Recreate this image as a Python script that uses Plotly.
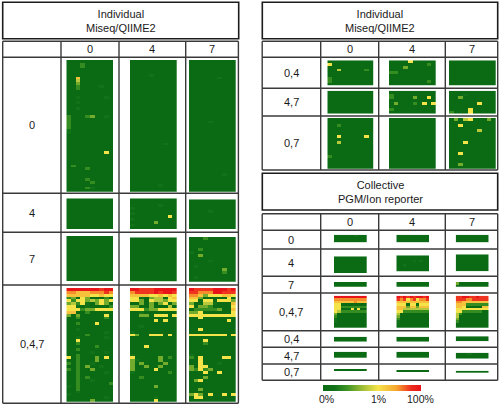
import plotly.graph_objects as go

FONT = "Liberation Sans, Arial, sans-serif"
W, H = 500, 407

# value scale: 0 = 0 %, about 5 = 1 %, 9 = 100 %
COLORSCALE = [[0, "#0a6b14"], [0.12, "#12731a"], [0.25, "#3f9424"], [0.40, "#9dbd35"],
              [0.56, "#f6e44a"], [0.75, "#f6a52f"], [0.90, "#ee2c1f"], [1, "#e8141a"]]
BAR_LABELS = ["0%", "1%", "100%"]
BAR_LABEL_X = [326, 378, 420]

TITLE_A = "Individual<br>Miseq/QIIME2"
TITLE_B = "Collective<br>PGM/Ion reporter"
TIMES = ["0", "4", "7"]

# panel contents: row index -> one digit per column (10 columns); rows not listed are 0
L_0_0 = {1: "0002000000", 2: "0002000000", 6: "0060000000", 7: "0040000000", 8: "0030000000", 9: "0020000100",
         10: "0020000000", 13: "0010000010", 15: "0010000000", 17: "0010000000", 20: "2000230010", 21: "2000000000",
         22: "2000000000", 23: "2000000000", 24: "2000000000", 25: "1000000000", 26: "1000000000", 33: "0000000050",
         38: "0200000000", 39: "0000200000", 43: "0000200000", 44: "0000020000", 46: "0000210000"}
L_0_4 = {5: "0000100000", 30: "0000000100", 45: "0000001000"}
L_0_7 = {6: "0000001000", 22: "0000100000", 41: "0000000100"}
L_4_0 = {}
L_4_4 = {2: "0000001000", 3: "1000000000", 5: "1000000000", 6: "0000000050", 7: "1000000000", 8: "0000030000", 9: "1000000000"}
L_4_7 = {4: "0000100000"}
L_7_0 = {}
L_7_4 = {}
L_7_7 = {0: "0002000000", 4: "0020000000", 5: "1000000000", 6: "0030000000", 8: "0000100000", 10: "0100000000",
         11: "0000000300", 12: "0000000200", 14: "0100000000"}
L_047_0 = ["9999999899", "7766677787", "6666655655", "2305300020", "5255343535", "3425103530", "5510100002",
           "5552335555", "6600200000", "3030000050", "0020000020", "0000000000", "0020005000", "0000000000",
           "0010000000", "0000000010", "0000200000", "0010000010", "0050000000", "0020000000", "0000002000",
           "0020000000", "0000010010", "0020000000", "5020003050", "0020003000", "2020010000", "0020300100",
           "2020030000", "0020000010", "0020000000", "0020200000", "0020010000", "0020000002", "1020000000",
           "0020000000", "0010000000", "1000000000", "0000000010", "0000030000"]
L_047_4 = ["9988899999", "7888898998", "6666556565", "5510344056", "5530544355", "0030303503", "3300300040",
           "5552335555", "0010000000", "0033055505", "0000000000", "0000050500", "0000000000", "0010000000",
           "0000000000", "1000000000", "5300555050", "0000000000", "0000000000", "0000000000", "0005000000",
           "0000000000", "0000000000", "1000000000", "5000003020", "3100003000", "3030000300", "3003003000",
           "3000050000", "1000000020", "0000000000", "0020000000", "0000000000", "0000000000", "0000030000",
           "0000000000", "0000000000", "0000000000", "0000010000", "0000050000"]
L_047_7 = ["9888899989", "8877799888", "7763555665", "6630000050", "5505505553", "3004410006", "5033200005",
           "0222223006", "3350000005", "5555555555", "0050000000", "0000000050", "0000000000", "0000000000",
           "0050000000", "0000000000", "5555555505", "0000000000", "0005000000", "0002000000", "0000000000",
           "0000000000", "0000000000", "1000000000", "2050000550", "0050000000", "0050001000", "3055000000",
           "3252300000", "0005005000", "0000000000", "0003000000", "0350000000", "0000000000", "0000000000",
           "0030000000", "0000000000", "3530500505", "0550000000", "0000000000"]

R_04_0 = {1: "5000000000", 3: "0040000020", 6: "2000000000", 7: "2000000000"}
R_04_4 = {0: "0000500000", 1: "0000000020", 2: "0003000000", 4: "2200000000", 7: "0000000020"}
R_04_7 = {}
R_47_0 = {}
R_47_4 = {1: "2000000000", 2: "2000030050", 4: "0300020505", 6: "2000000000"}
R_47_7 = {1: "0001000000", 2: "0030000000", 4: "0000005000", 6: "0000500000", 7: "2000500000"}
R_07_0 = {2: "0020000000", 6: "0050000050", 8: "0040000000", 13: "2000000000"}
R_07_4 = {}
R_07_7 = {0: "0304500030", 2: "0050000000", 4: "0000004000", 8: "0005000000", 12: "0050000000", 16: "0030000000"}

C_0_0 = {0: "0000001000"}
C_0_4 = {}
C_0_7 = {}
C_4_0 = {}
C_4_4 = {2: "0000010100", 4: "0010000000"}
C_4_7 = {}
C_7_0 = {}
C_7_4 = {}
C_7_7 = {0: "3000000000"}
C_047_0 = ["9999999999", "7777777777", "6666667666", "5500000000", "5522222222", "5500050500", "5422222222",
           "3000000000", "2000000000", "1000000000", "1000000000", "0000000000", "0000000000"]
C_047_4 = ["9898989989", "8785785778", "6666666666", "5550550555", "6663663666", "6644444444", "5522222222",
           "4000000000", "3000000000", "2000000000", "1000000000", "1000000000", "0000000000"]
C_047_7 = ["8899889888", "8887788888", "7766666666", "6662222222", "6650000066", "5555555555", "5522222200",
           "4200000000", "4000000000", "3000000000", "2000000000", "0000000000", "0000000000"]
C_04_0 = {}
C_04_4 = {}
C_04_7 = {}
C_47_0 = {}
C_47_4 = {}
C_47_7 = {0: "0001100000"}
C_07_0 = {}
C_07_4 = {}
C_07_7 = {}

# layout, in reference pixels
TABLE_L = dict(xs=[2.7, 61, 119, 185.7, 238.4], ys=[41.3, 57.3, 193.3, 232.3, 285, 403.3],
               labels=["0", "4", "7", "0,4,7"])
TABLE_R = dict(xs=[262.2, 320.7, 378.7, 445.3, 497.7], ys=[41.3, 57.3, 88.3, 116, 170],
               labels=["0,4", "4,7", "0,7"])
TABLE_C = dict(xs=[262.2, 320.7, 378.7, 445.3, 497.7],
               ys=[213.7, 230.3, 249, 276.3, 293, 330.7, 347.3, 364, 380.3],
               labels=["0", "4", "7", "0,4,7", "0,4", "4,7", "0,7"])
TITLES = [(2.7, 238.7, 2.3, 38.7, TITLE_A), (262.3, 497.7, 2.3, 38.7, TITLE_A), (262.3, 497.7, 173.3, 210, TITLE_B)]

X_L = [(66.3, 113), (130, 176.7), (189, 235.7)]
X_R = [(327.3, 373.7), (389, 435.7), (449, 495.7)]
X_C = [(334, 366.7), (396.3, 429), (455.7, 488.7)]

# (data, rows, column x span, y top, y bottom)
PANELS = [
    (L_0_0, 48, X_L[0], 60, 191.7), (L_0_4, 48, X_L[1], 60, 191.7), (L_0_7, 48, X_L[2], 60, 191.7),
    (L_4_0, 11, X_L[0], 198.3, 229), (L_4_4, 11, X_L[1], 198.3, 229), (L_4_7, 11, X_L[2], 199.3, 229),
    (L_7_0, 16, X_L[0], 236, 281), (L_7_4, 16, X_L[1], 237.3, 281.7), (L_7_7, 16, X_L[2], 237, 281.7),
    (L_047_0, 40, X_L[0], 288, 401.7), (L_047_4, 40, X_L[1], 288, 401.7), (L_047_7, 40, X_L[2], 288, 401.7),
    (R_04_0, 9, X_R[0], 60.3, 85.7), (R_04_4, 9, X_R[1], 60.3, 85.7), (R_04_7, 9, X_R[2], 60.3, 85.7),
    (R_47_0, 8, X_R[0], 90.7, 113.7), (R_47_4, 8, X_R[1], 90.7, 113.7), (R_47_7, 8, X_R[2], 90.7, 113.7),
    (R_07_0, 18, X_R[0], 118, 168.7), (R_07_4, 18, X_R[1], 118, 168.7), (R_07_7, 18, X_R[2], 118, 168.7),
    (C_0_0, 3, X_C[0], 234.7, 242.3), (C_0_4, 3, X_C[1], 234.7, 242.3), (C_0_7, 3, X_C[2], 234.7, 242.3),
    (C_4_0, 7, X_C[0], 256.3, 273), (C_4_4, 7, X_C[1], 255.3, 271.7), (C_4_7, 7, X_C[2], 254.3, 271.3),
    (C_7_0, 2, X_C[0], 282, 286.7), (C_7_4, 2, X_C[1], 282, 286.7), (C_7_7, 2, X_C[2], 282, 286.7),
    (C_047_0, 13, X_C[0], 295.7, 328), (C_047_4, 13, X_C[1], 295.7, 328), (C_047_7, 13, X_C[2], 295.7, 328),
    (C_04_0, 2, X_C[0], 336.7, 341.7), (C_04_4, 2, X_C[1], 336.7, 341.7), (C_04_7, 2, X_C[2], 336.2, 341.2),
    (C_47_0, 3, X_C[0], 351.7, 358), (C_47_4, 3, X_C[1], 351.7, 358), (C_47_7, 3, X_C[2], 352.7, 358.7),
    (C_07_0, 1, X_C[0], 369, 371.3), (C_07_4, 1, X_C[1], 370, 372.3), (C_07_7, 1, X_C[2], 370.7, 373),
]


def px(x):
    return x / W


def py(y):
    return 1 - y / H


def to_matrix(data, rows):
    if isinstance(data, dict):
        lines = [data.get(r, "0" * 10) for r in range(rows)]
    else:
        lines = data
    return [[int(ch) for ch in line] for line in lines]


fig = go.Figure()
layout = dict(
    width=W, height=H, margin=dict(l=0, r=0, t=0, b=0, pad=0),
    paper_bgcolor="white", plot_bgcolor="white", showlegend=False,
    font=dict(family=FONT, size=11, color="#1a1a1a"),
    coloraxis=dict(
        colorscale=COLORSCALE, cmin=0, cmax=9,
        colorbar=dict(
            orientation="h", x=px(323), xanchor="left", y=py(385), yanchor="top",
            lenmode="pixels", len=98, thicknessmode="pixels", thickness=6,
            xpad=0, ypad=0, outlinewidth=0, ticks="", showticklabels=False,
        ),
    ),
)
for i, (data, rows, (x0, x1), y0, y1) in enumerate(PANELS, start=1):
    suffix = "" if i == 1 else str(i)
    fig.add_trace(go.Heatmap(z=to_matrix(data, rows), coloraxis="coloraxis", xaxis=f"x{suffix}", yaxis=f"y{suffix}",
                             hoverinfo="skip"))
    layout[f"xaxis{suffix}"] = dict(domain=[px(x0), px(x1)], anchor=f"y{suffix}", showticklabels=False, ticks="",
                                    showgrid=False, zeroline=False, showline=False, range=[-0.5, 9.5])
    layout[f"yaxis{suffix}"] = dict(domain=[py(y1), py(y0)], anchor=f"x{suffix}", showticklabels=False, ticks="",
                                    showgrid=False, zeroline=False, showline=False, range=[rows - 0.5, -0.5])

shapes, annotations = [], []


def line(x0, y0, x1, y1, width=1.4, color="#3a3a3a"):
    shapes.append(dict(type="line", xref="paper", yref="paper", x0=px(x0), x1=px(x1), y0=py(y0), y1=py(y1),
                       line=dict(color=color, width=width), layer="above"))


def label(x, y, text, size=11):
    annotations.append(dict(xref="paper", yref="paper", x=px(x), y=py(y), text=text, showarrow=False,
                            xanchor="center", yanchor="middle", font=dict(family=FONT, size=size, color="#1a1a1a"),
                            align="center"))


for t in (TABLE_L, TABLE_R, TABLE_C):
    xs, ys = t["xs"], t["ys"]
    for x in xs:
        line(x, ys[0], x, ys[-1])
    for y in ys:
        line(xs[0], y, xs[-1], y)
    for j, name in enumerate(TIMES):
        label((xs[j + 1] + xs[j + 2]) / 2, (ys[0] + ys[1]) / 2, name)
    for j, name in enumerate(t["labels"]):
        label((xs[0] + xs[1]) / 2, (ys[j + 1] + ys[j + 2]) / 2, name)

for x0, x1, y0, y1, text in TITLES:
    shapes.append(dict(type="rect", xref="paper", yref="paper", x0=px(x0), x1=px(x1), y0=py(y0), y1=py(y1),
                       line=dict(color="#1c1c1c", width=1.6), fillcolor="rgba(0,0,0,0)"))
    label((x0 + x1) / 2, (y0 + y1) / 2, text)

for x, text in zip(BAR_LABEL_X, BAR_LABELS):
    label(x, 399, text, size=10.5)

layout["shapes"] = shapes
layout["annotations"] = annotations
fig.update_layout(**layout)
fig.write_html("out.html", post_script="document.body.style.margin='0';",
               config=dict(displayModeBar=False, responsive=False))
